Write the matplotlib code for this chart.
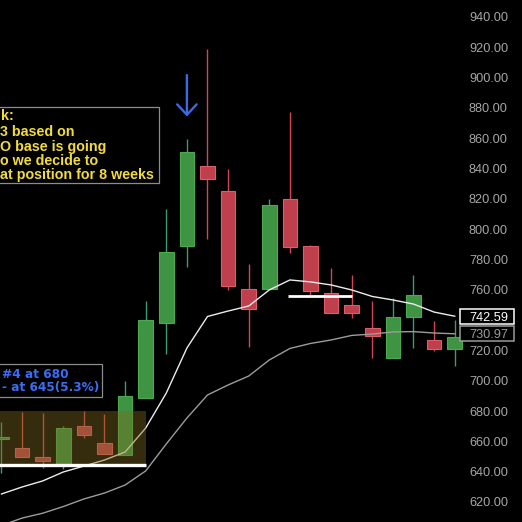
import matplotlib.pyplot as plt
import numpy as np
from matplotlib.patches import Rectangle
import matplotlib.transforms as mtransforms

# weekly candles
opens  = [661.5, 655.6, 649.5, 644.4, 670.0, 658.7, 651.0, 688.4, 738.3, 789.1, 841.7, 825.2,
          760.5, 760.3, 819.9, 788.9, 757.7, 750.0, 734.6, 715.2, 741.9, 726.9, 720.8]
highs  = [672.8, 679.4, 678.7, 670.1, 680.0, 677.9, 699.8, 752.6, 813.3, 859.5, 918.9, 839.7,
          777.0, 819.9, 877.3, 789.6, 774.6, 769.8, 752.6, 754.4, 769.8, 739.4, 740.1]
lows   = [639.1, 649.4, 642.4, 641.8, 662.2, 651.5, 651.0, 688.4, 717.4, 775.3, 793.5, 759.9,
          722.3, 760.3, 784.0, 755.5, 744.5, 741.2, 714.8, 715.2, 721.8, 719.8, 709.7]
closes = [663.0, 649.4, 647.3, 668.6, 664.2, 651.5, 689.9, 740.0, 785.0, 850.7, 833.3, 762.7,
          747.1, 816.0, 788.4, 759.4, 744.5, 744.5, 729.7, 741.9, 756.6, 720.7, 729.1]

# moving averages
ma_fast = [625.3, 629.9, 633.9, 639.8, 643.7, 647.7, 653.0, 668.8, 691.9, 721.6, 742.4, 746.0,
           749.3, 759.9, 766.5, 765.2, 763.2, 759.9, 755.6, 753.3, 750.6, 745.3, 742.59]
ma_slow = [604.5, 609.4, 612.6, 617.0, 622.0, 625.9, 631.2, 640.5, 658.3, 675.4, 690.6, 697.2,
           703.1, 713.7, 721.3, 724.6, 726.9, 729.9, 730.8, 732.2, 732.4, 731.5, 730.97]

price_ticks = np.arange(620, 941, 20)
base_zone = (645, 680)
base_line = 644.4
resist_line = 756.0

W, H = 522, 522
AXW = 463

fig = plt.figure(figsize=(W / 100, H / 100), dpi=100, facecolor='black')
ax = fig.add_axes([0, 0, AXW / W, 1])
ax.set_facecolor('black')

x = np.arange(len(opens))
up_body, up_edge, up_wick = '#3f9443', '#4caa4e', '#3a9c72'
dn_body, dn_edge, dn_wick = '#c03f4c', '#dc5e68', '#d24653'

for i in x:
    o, h, l, c = opens[i], highs[i], lows[i], closes[i]
    up = c >= o
    ax.vlines(i, l, h, color=up_wick if up else dn_wick, lw=1, zorder=2)
    ax.add_patch(Rectangle((i - 0.355, min(o, c)), 0.71, max(abs(c - o), 0.8),
                           facecolor=up_body if up else dn_body,
                           edgecolor=up_edge if up else dn_edge, lw=0.8, zorder=3))

ax.plot(x, ma_slow, color='#9c9c9c', lw=1, zorder=4)
ax.plot(x, ma_fast, color='#ececec', lw=1, zorder=4)

# base zone + lines
ax.add_patch(Rectangle((-1, base_zone[0]), 8, base_zone[1] - base_zone[0],
                       facecolor='#7d6a1e', alpha=0.42, lw=0, zorder=5))
ax.hlines(base_line, -1, 7, color='white', lw=2.4, zorder=6)
ax.hlines(resist_line, 13.9, 17.0, color='white', lw=2, zorder=6)

# arrow over the top candle
ax.annotate('', xy=(9, 872.5), xytext=(9, 903.5),
            arrowprops=dict(arrowstyle='->,head_length=0.75,head_width=0.7',
                            color='#3c68ea', lw=1.7), zorder=7)

ax.set_xlim(-1.5 / 20.6, -1.5 / 20.6 + AXW / 20.6)
ax.set_ylim(606.8, 951.2)
for s in ax.spines.values():
    s.set_visible(False)
ax.set_xticks([])
ax.yaxis.tick_right()
ax.set_yticks(price_ticks)
# the 740 label sits under the price tags
ax.set_yticklabels(['' if v == 740 else f'{v:.2f}' for v in price_ticks])
ax.tick_params(axis='y', length=0, pad=4.3, labelcolor='#a6a6a6', labelsize=9.2)
for lab in ax.get_yticklabels():
    lab.set_fontfamily('Liberation Sans')

# price tags
blend = mtransforms.blended_transform_factory(ax.transAxes, ax.transData)
for val, col in [(ma_fast[-1], 'white'), (ma_slow[-1], '#9a9a9a')]:
    ax.add_patch(Rectangle((460 / AXW, val - 4.9), 54 / AXW, 9.8, transform=blend,
                           facecolor='black', edgecolor=col, lw=1.1, clip_on=False, zorder=8))
    ax.text(488.5 / AXW, val, f'{val:.2f}', transform=blend, color=col, fontsize=9.2,
            family='Liberation Sans', ha='center', va='center_baseline', clip_on=False, zorder=9)

# note boxes (cut at the left edge)
def fx(px):
    return px / AXW

def fy(py):
    return 1 - py / H

ax.add_patch(Rectangle((-0.05, fy(183)), fx(159) + 0.05, fy(107) - fy(183), transform=ax.transAxes,
                       facecolor='black', edgecolor='#8c8c8c', lw=0.9, zorder=8))
yellow_lines = ['k:', '3 based on', 'O base is going', 'o we decide to', 'at position for 8 weeks']
yellow_y = [116, 132, 147, 161, 175]
for t, py in zip(yellow_lines, yellow_y):
    ax.text(fx(0.5), fy(py), t, transform=ax.transAxes, color='#f2dc3c', fontsize=10.3,
            fontweight='bold', family='Liberation Sans', ha='left', va='center', zorder=9)

ax.add_patch(Rectangle((-0.05, fy(397)), fx(101.5) + 0.05, fy(363.5) - fy(397), transform=ax.transAxes,
                       facecolor='black', edgecolor='#8c8c8c', lw=0.9, zorder=8))
blue_lines = ['#4 at 680', '- at 645(5.3%)']
blue_y = [374.5, 388]
for t, py in zip(blue_lines, blue_y):
    ax.text(fx(1.5), fy(py), t, transform=ax.transAxes, color='#3b6cf2', fontsize=8.7,
            fontweight='bold', family='DejaVu Sans', ha='left', va='center', zorder=9)

fig.savefig('out.png', dpi=100, facecolor='black')
